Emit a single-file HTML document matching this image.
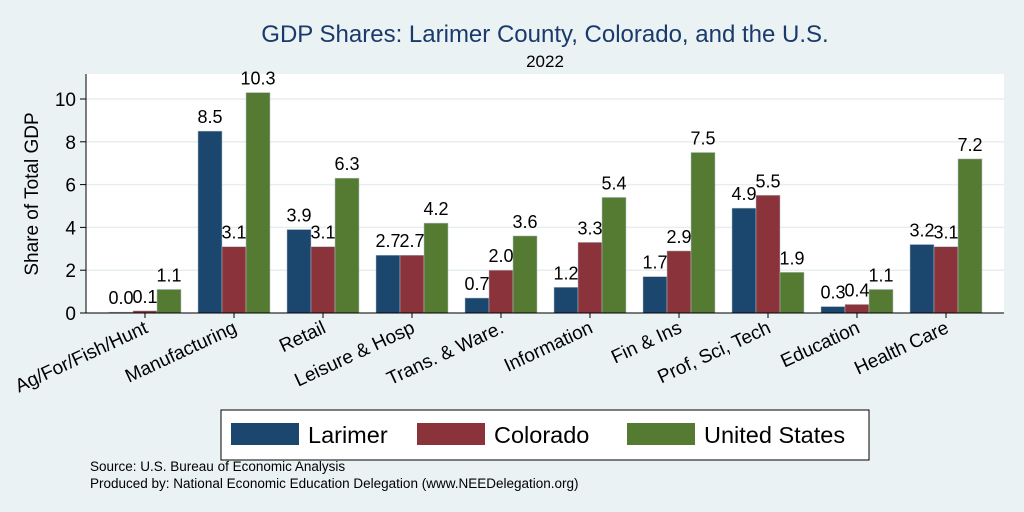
<!DOCTYPE html>
<html><head><meta charset="utf-8"><style>
body{margin:0;background:#eaf2f3;}
svg{display:block;font-family:"Liberation Sans",sans-serif;}
</style></head><body>
<svg width="1024" height="512" viewBox="0 0 1024 512">
<rect x="0" y="0" width="1024" height="512" fill="#eaf2f3"/>
<text x="545" y="42" font-size="24" fill="#1a3a6b" text-anchor="middle">GDP Shares: Larimer County, Colorado, and the U.S.</text>
<text x="545" y="67" font-size="17" fill="#000" text-anchor="middle">2022</text>
<rect x="86" y="74" width="918" height="239" fill="#fff"/>
<g id="grid"></g>
<g id="bars"></g>
<g id="labels"></g>
<line x1="86" y1="74" x2="86" y2="313" stroke="#000" stroke-width="1"/>
<line x1="86" y1="313" x2="1004" y2="313" stroke="#000" stroke-width="1"/>
<text transform="translate(38,194) rotate(-90)" font-size="19" text-anchor="middle">Share of Total GDP</text>
<g>
<rect x="221" y="410" width="648" height="50" fill="#fff" stroke="#000" stroke-width="1"/>
<rect x="231" y="423" width="68" height="22" fill="#1b466e"/>
<text x="308" y="443" font-size="23.5">Larimer</text>
<rect x="417" y="423" width="68" height="22" fill="#8b333b"/>
<text x="494" y="443" font-size="23.5">Colorado</text>
<rect x="627" y="423" width="68" height="22" fill="#557a32"/>
<text x="704" y="443" font-size="23.5">United States</text>
</g>
<text x="90" y="471" font-size="13.5">Source: U.S. Bureau of Economic Analysis</text>
<text x="90" y="488" font-size="13.5">Produced by: National Economic Education Delegation (www.NEEDelegation.org)</text>
</svg>
<script>
const categories=["Ag/For/Fish/Hunt","Manufacturing","Retail","Leisure & Hosp","Trans. & Ware.","Information","Fin & Ins","Prof, Sci, Tech","Education","Health Care"];
const larimer=[0.04,8.5,3.9,2.7,0.7,1.2,1.7,4.9,0.3,3.2];
const colorado=[0.1,3.1,3.1,2.7,2.0,3.3,2.9,5.5,0.4,3.1];
const us=[1.1,10.3,6.3,4.2,3.6,5.4,7.5,1.9,1.1,7.2];
const yTicks=[0,2,4,6,8,10];
const NS="http://www.w3.org/2000/svg";
const y0=313,pxPer=21.4,x0=145,gap=89,bw=24;
const yS=v=>y0-v*pxPer;
const xS=i=>x0+i*gap;
function mk(t,a,p){const e=document.createElementNS(NS,t);for(const k in a)e.setAttribute(k,a[k]);p.appendChild(e);return e;}
const grid=document.getElementById('grid'),bars=document.getElementById('bars'),labels=document.getElementById('labels');
yTicks.forEach(t=>{
 const g=mk('line',{x1:86,x2:1004,y1:yS(t),y2:yS(t),stroke:'#e6eef0','stroke-width':1.5},grid);
 
 
 const tk=mk('line',{x1:80,x2:86,y1:yS(t),y2:yS(t),stroke:'#000'},grid);
 
 
 const tl=mk('text',{x:76,y:yS(t)+7,'font-size':19,'text-anchor':'end'},grid);
 tl.textContent=t;
 
 
});
const series=[[larimer,'#1b466e','larimer'],[colorado,'#8b333b','colorado'],[us,'#557a32','us']];
categories.forEach((c,i)=>{
 series.forEach(([arr,col,nm],j)=>{
  const v=arr[i];const x=xS(i)-36+j*bw;
  const r=mk('rect',{x:x,y:yS(v),width:bw,height:v*pxPer,fill:col,stroke:'#b0c0c8','stroke-width':0.5},bars);
  
  
  const t=mk('text',{x:x+bw/2,y:yS(v)-8,'font-size':18,'text-anchor':'middle'},labels);
  t.textContent=v.toFixed(1);
  
  
 });
 const tk=mk('line',{x1:xS(i),x2:xS(i),y1:313,y2:318,stroke:'#000'},labels);
 
 
 const cl=mk('text',{transform:`translate(${xS(i)+4},${332}) rotate(-25)`,'font-size':19,'text-anchor':'end'},labels);
 cl.textContent=c;
 
 
});
</script>
</body></html>
